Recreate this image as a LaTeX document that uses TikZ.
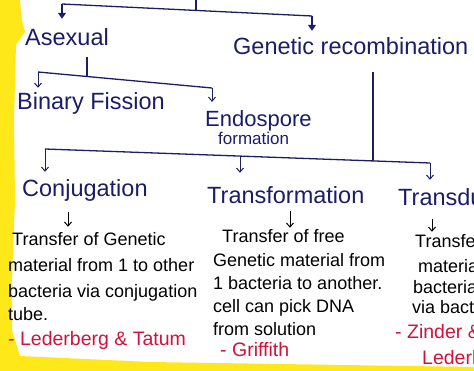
\documentclass[tikz,border=0pt]{standalone}
\usepackage{fontspec}
\setmainfont{Liberation Sans}
\usetikzlibrary{arrows.meta}
\definecolor{ink}{HTML}{1B1E66}
\definecolor{redink}{HTML}{D0123C}
\definecolor{hl}{HTML}{FFE81A}
\begin{document}
\begin{tikzpicture}[x=1pt,y=-1pt,
 head/.style={text=ink,font=\fontsize{23.5}{26}\selectfont,inner sep=0pt,anchor=base west},
 body/.style={text=black,font=\fontsize{18}{21}\selectfont,inner sep=0pt,anchor=base west},
 who/.style={body,text=redink,font=\fontsize{19.5}{22}\selectfont},
 ln/.style={draw=ink,line width=1.3pt},
 arrF/.style={ln,-{Triangle[length=6pt,width=8pt]}},
 arrO/.style={draw=ink,line width=1pt,-{Straight Barb[length=4pt,width=7pt]}},
 arrB/.style={arrO,draw=black},
]
\useasboundingbox (0,0) rectangle (474,371);
\clip (0,0) rectangle (474,371);
\fill[white] (0,0) rectangle (474,371);
\fill[hl] (0,0) -- (20,0) -- (22,20) -- (25,32) -- (16,45) -- (14,120) -- (15,200) -- (12,280) -- (12,330) -- (20,356) -- (150,362) -- (474,367) -- (474,371) -- (0,371) -- cycle;

% headings
\node[head] (asex) at (25,46) {Asexual};
\node[head] (gen)  at (233,55) {Genetic recombination};
\node[head] (bin)  at (17,110) {Binary Fission};
\node[head,font=\fontsize{22}{24}\selectfont] (endo) at (205,127) {Endospore};
\node[head,font=\fontsize{17}{19}\selectfont] (form) at (218,145) {formation};
\node[head] (conj) at (22,197) {Conjugation};
\node[head] (trf)  at (207,204) {Transformation};
\node[head] (trd)  at (398,206) {Transduction};

% conjugation text
\node[body] (cb1) at (12,246) {Transfer of Genetic};
\node[body] (cb2) at (8,272) {material from 1 to other};
\node[body] (cb3) at (8,298) {bacteria via conjugation};
\node[body] (cb4) at (8,321) {tube.};
\node[who]  (cb5) at (8,345) {- Lederberg \& Tatum};

% transformation text
\node[body] (fb1) at (222,243) {Transfer of free};
\node[body] (fb2) at (213,267) {Genetic material from};
\node[body] (fb3) at (213,290) {1 bacteria to another.};
\node[body] (fb4) at (213,313) {cell can pick DNA};
\node[body] (fb5) at (213,336) {from solution};
\node[who]  (fb6) at (220,356) {- Griffith};

% transduction text
\node[body] (db1) at (415,248) {Transfer of genetic};
\node[body] (db2) at (418,273) {material};
\node[body] (db3) at (413,294) {bacteria};
\node[body] (db4) at (412,314) {via bacteriophage};
\node[who]  (db5) at (395,339) {- Zinder \&};
\node[who]  (db6) at (422,364) {Lederberg};

% top level connectors
\coordinate (t0) at (196,-2);
\coordinate (tM) at (196,10.4);
\coordinate (tA) at (62,4);
\coordinate (tB) at (312,16);
\draw[ln] (t0) -- (tM);
\draw[ln] (tA) -- (tB);
\draw[arrF,shorten >=10pt] (tA) -- (tA |- asex.north);
\draw[arrF,shorten >=7pt] (tB) -- (tB |- gen.north);

% asexual branch
\coordinate (aS) at (87,57);
\coordinate (aM) at (87,76);
\coordinate (aL) at (38,72);
\coordinate (aR) at (212,88);
\draw[ln] (aS) -- (aM);
\draw[ln] (aL) -- (aR);
\draw[arrO,shorten >=5pt] (aL) -- (aL |- bin.north);
\draw[arrO,shorten >=9pt] (aR) -- (aR |- endo.north);

% genetic recombination branch
\coordinate (gS) at (373,72);
\coordinate (gM) at (373,161);
\coordinate (gL) at (45,149);
\coordinate (gR) at (430,163);
\coordinate (gT) at (240,156);
\draw[ln] (gS) -- (gM);
\draw[ln] (gL) -- (gR);
\draw[arrO,shorten >=8pt] (gL) -- (gL |- conj.north);
\draw[arrO,shorten >=14pt] (gT) -- (gT |- trf.north);
\draw[arrO,shorten >=9pt] (gR) -- (gR |- trd.north);

% small arrows to descriptions
\coordinate (c1) at (68,212);
\coordinate (c2) at (290,211);
\coordinate (c3) at (432,219);
\draw[arrB,shorten >=6pt] (c1) -- (c1 |- cb1.north);
\draw[arrB,shorten >=2pt] (c2) -- (c2 |- fb1.north);
\draw[arrB,shorten >=3pt] (c3) -- (c3 |- db1.north);
\end{tikzpicture}
\end{document}
